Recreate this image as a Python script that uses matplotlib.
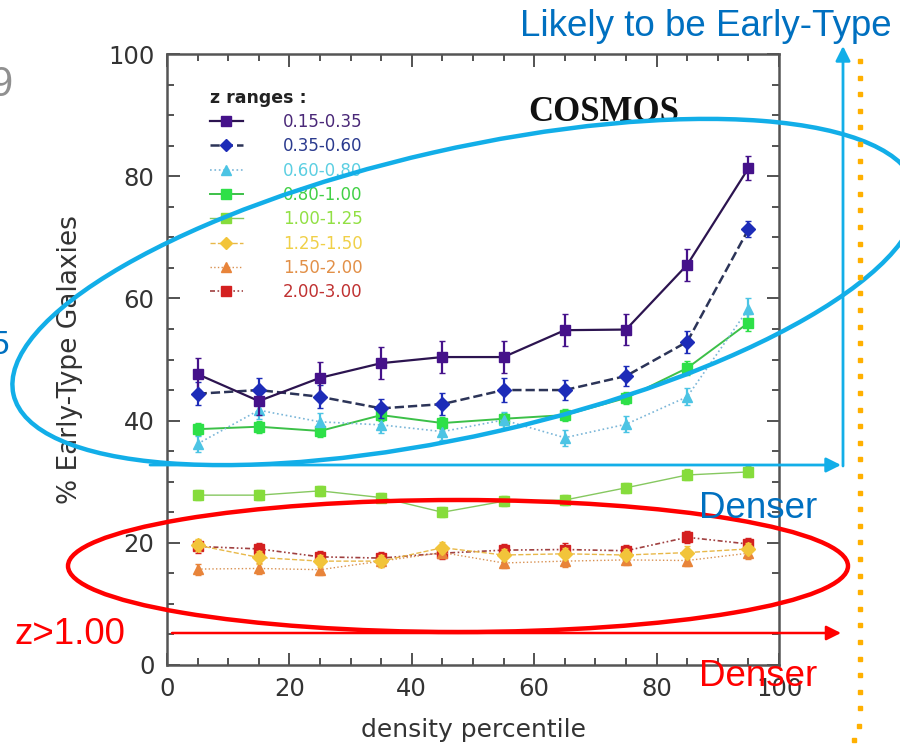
import numpy as np
import matplotlib.pyplot as plt
from matplotlib.patches import Ellipse
from matplotlib.lines import Line2D

#%% data
density = [5, 15, 25, 35, 45, 55, 65, 75, 85, 95]
z_ranges = ['0.15-0.35', '0.35-0.60', '0.60-0.80', '0.80-1.00',
            '1.00-1.25', '1.25-1.50', '1.50-2.00', '2.00-3.00']

et_015_035 = [47.6, 43.2, 47.0, 49.4, 50.4, 50.4, 54.8, 54.9, 65.5, 81.3]
et_035_060 = [44.4, 45.0, 43.9, 42.0, 42.7, 45.0, 45.0, 47.3, 52.9, 71.3]
et_060_080 = [36.2, 41.7, 39.8, 39.3, 38.2, 40.1, 37.2, 39.4, 43.9, 58.3]
et_080_100 = [38.6, 39.0, 38.3, 40.9, 39.6, 40.3, 40.9, 43.7, 48.6, 56.0]
et_100_125 = [27.8, 27.8, 28.5, 27.4, 25.0, 26.8, 27.0, 29.0, 31.1, 31.6]
et_125_150 = [19.6, 17.6, 17.0, 17.0, 19.2, 18.0, 18.2, 18.0, 18.4, 19.0]
et_150_200 = [15.7, 15.8, 15.6, 17.0, 18.4, 16.7, 17.0, 17.2, 17.1, 18.3]
et_200_300 = [19.4, 19.0, 17.7, 17.5, 18.3, 18.8, 18.9, 18.7, 20.9, 19.8]

err_015_035 = [2.6, 2.3, 2.6, 2.6, 2.6, 2.6, 2.6, 2.6, 2.6, 2.0]
err_035_060 = [1.9, 1.9, 1.9, 1.5, 1.8, 1.9, 1.6, 1.6, 1.8, 1.3]
err_060_080 = [1.3, 1.4, 1.4, 1.3, 1.3, 1.3, 1.3, 1.3, 1.4, 1.8]
err_080_100 = [1.0, 1.0, 1.0, 1.0, 1.0, 1.0, 1.0, 1.0, 1.1, 1.4]
err_100_125 = [0.8, 0.8, 0.8, 0.8, 0.8, 0.8, 0.8, 0.8, 0.9, 0.9]
err_125_150 = [1.0, 1.0, 1.0, 1.0, 1.0, 1.0, 1.0, 1.0, 1.0, 1.0]
err_150_200 = [0.9, 0.9, 0.9, 0.9, 0.9, 0.9, 0.9, 0.9, 0.9, 0.9]
err_200_300 = [1.0, 1.0, 1.0, 1.0, 1.0, 1.0, 1.0, 1.0, 1.0, 1.0]

values = [et_015_035, et_035_060, et_060_080, et_080_100,
          et_100_125, et_125_150, et_150_200, et_200_300]
errors = [err_015_035, err_035_060, err_060_080, err_080_100,
          err_100_125, err_125_150, err_150_200, err_200_300]

# style per z range
mk_colors = ['#45128a', '#1d2cb8', '#4cc4e4', '#2ee048', '#86dc3c', '#f2c43a', '#e8843a', '#d42020']
ln_colors = ['#2c1450', '#2c3458', '#7ab6d8', '#3cc048', '#86c860', '#e8b848', '#d89050', '#a04040']
txt_colors = ['#4a2878', '#2a3a8e', '#5ccfe2', '#42d046', '#92e044', '#f0d048', '#e29048', '#c03232']
styles = ['-', '--', ':', '-', '-', '--', ':', (0, (3, 1.5, 1, 1.5, 1, 1.5))]
markers = ['s', 'D', '^', 's', 's', 'D', '^', 's']
lwidths = [1.6, 1.8, 1.2, 1.4, 1.0, 1.0, 1.0, 1.2]

#%% figure
fig = plt.figure(figsize=(9, 7.45), dpi=100)
ax = fig.add_axes([167/900, 80/745, 612/900, 611/745])

for i in range(len(values)):
    ax.errorbar(density, values[i], yerr=errors[i], color=ln_colors[i],
                ls=styles[i], lw=lwidths[i], marker=markers[i], ms=7,
                mfc=mk_colors[i], mec=mk_colors[i], ecolor=mk_colors[i],
                elinewidth=1.6, capsize=2.5, zorder=3 + (8 - i) * 0.1)

ax.set_xlim(0, 100)
ax.set_ylim(0, 100)
ax.set_xticks([0, 20, 40, 60, 80, 100])
ax.set_yticks([0, 20, 40, 60, 80, 100])
ax.set_xticks(np.arange(0, 101, 5), minor=True)
ax.set_yticks(np.arange(0, 101, 5), minor=True)
ax.tick_params(which='both', direction='in', top=True, right=True,
               color='#444444', width=1.3)
ax.tick_params(which='major', length=9, labelsize=17.5, labelcolor='#333333', pad=9)
ax.tick_params(which='minor', length=5)
for s in ax.spines.values():
    s.set_color('#555555')
    s.set_linewidth(1.8)
ax.set_xlabel('density percentile', fontsize=18, color='#333333', labelpad=12)
ax.set_ylabel('% Early-Type Galaxies', fontsize=19, color='#333333', labelpad=18)

ax.text(0.713, 0.905, 'COSMOS', transform=ax.transAxes, ha='center', va='center',
        fontsize=25, fontweight='bold', family='Liberation Serif', color='#111111')

handles = [Line2D([], [], color=ln_colors[i], ls=styles[i], lw=lwidths[i],
                  marker=markers[i], ms=6.5, mfc=mk_colors[i], mec=mk_colors[i])
           for i in range(len(values))]
leg = ax.legend(handles, z_ranges, loc='upper left', bbox_to_anchor=(0.045, 0.968),
                frameon=False, fontsize=12, labelcolor=txt_colors, title='z ranges :',
                title_fontsize=12.5, alignment='left', handlelength=2.0,
                handletextpad=2.4, labelspacing=0.38)
leg.get_title().set_color('#222222')
leg.get_title().set_fontweight('bold')

#%% slide overlay drawn in pixel coordinates
ov = fig.add_axes([0, 0, 1, 1], zorder=10)
ov.set_xlim(0, 900)
ov.set_ylim(745, 0)
ov.axis('off')
ov.patch.set_visible(False)

ov.add_patch(Ellipse((465, 292), 926, 286, angle=-12.8, fill=False,
                     ec='#12aee8', lw=3.2))
ov.add_patch(Ellipse((458, 566), 780, 132, fill=False, ec='#ff0000', lw=3.2))

ov.annotate('', xy=(841, 465), xytext=(150, 465),
            arrowprops=dict(arrowstyle='-|>', color='#12aee8', lw=2,
                            mutation_scale=22, shrinkA=0, shrinkB=0))
ov.annotate('', xy=(843, 46), xytext=(843, 466),
            arrowprops=dict(arrowstyle='-|>', color='#12aee8', lw=2,
                            mutation_scale=22, shrinkA=0, shrinkB=0))
ov.annotate('', xy=(841, 633), xytext=(172, 633),
            arrowprops=dict(arrowstyle='-|>', color='#ff0000', lw=1.8,
                            mutation_scale=22, shrinkA=0, shrinkB=0))

# dotted orange guide
dot_y = np.arange(61, 712, 16.6)
ov.plot(np.full(dot_y.shape, 860), dot_y, ls='none', marker='s', ms=3.2,
        color='#ffb000')
ov.plot([859, 854, 847], [726, 740, 752], ls='none', marker='s', ms=3.2,
        color='#ffb000')

ov.text(706, 27, 'Likely to be Early-Type', ha='center', va='center',
        fontsize=26.5, color='#0070c0', family='Liberation Sans')
ov.text(758, 508, 'Denser', ha='center', va='center', fontsize=26.5,
        color='#0070c0', family='Liberation Sans')
ov.text(758, 677, 'Denser', ha='center', va='center', fontsize=26.5,
        color='#ff0000', family='Liberation Sans')
ov.text(70, 635, 'z>1.00', ha='center', va='center', fontsize=26.5,
        color='#ff0000', family='Liberation Sans')
ov.text(13, 85, '9', ha='right', va='center', fontsize=30,
        color='#909090', family='Liberation Sans')
ov.text(9, 345, '5', ha='right', va='center', fontsize=24,
        color='#0070c0', family='Liberation Sans')

fig.savefig('out.png', dpi=100)
